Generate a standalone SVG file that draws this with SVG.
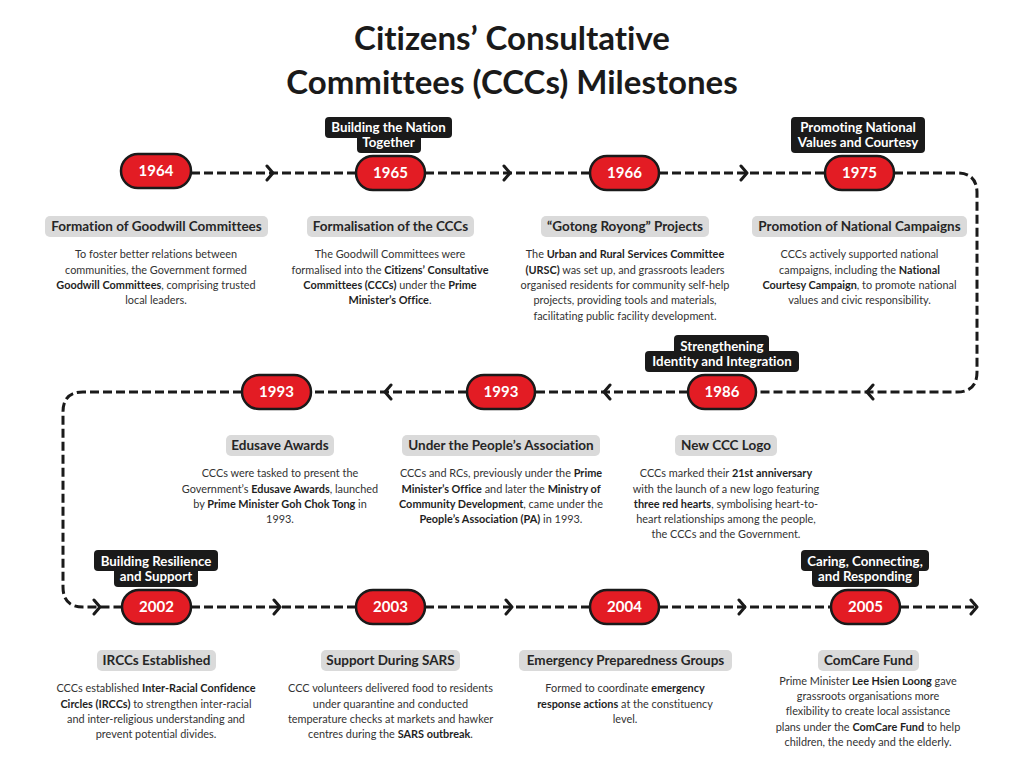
<svg xmlns="http://www.w3.org/2000/svg" width="1024" height="768" viewBox="0 0 1024 768">
<defs>
<style>
text{font-variant-ligatures:none}
.title{font-family:Lato,"Liberation Sans",sans-serif;font-weight:700;font-size:33px;fill:#1a1a1a;text-anchor:middle}
.pill{fill:#e31c24;stroke:#1a1a1a;stroke-width:2.5}
.year{font-family:Lato,"Liberation Sans",sans-serif;font-weight:700;font-size:15px;fill:#fff;text-anchor:middle}
.tag{fill:#1a1a1a}
.tagt{font-family:Lato,"Liberation Sans",sans-serif;font-weight:700;font-size:13.3px;fill:#fff;text-anchor:middle}
.hbox{fill:#dadada}
.head{font-family:Lato,"Liberation Sans",sans-serif;font-weight:700;font-size:13.5px;fill:#262626;text-anchor:middle}
.body{font-family:Lato,"Liberation Sans",sans-serif;font-size:10.9px;fill:#333;text-anchor:middle}
.b{font-weight:700;fill:#1f1f1f}
.line{fill:none;stroke:#1a1a1a;stroke-width:3;stroke-dasharray:9 4}
.arr{fill:none;stroke:#1a1a1a;stroke-width:3;stroke-linecap:round;stroke-linejoin:round}
</style>
</defs>
<rect width="1024" height="768" fill="#fff"/>
<g id="title">
<text class="title" x="512" y="50">Citizens’ Consultative</text>
<text class="title" x="512" y="94">Committees (CCCs) Milestones</text>
</g>
<g id="connectors">
<path class="line" d="M191,173 H356 M425,173 H590 M659,173 H825 M894,173 H957 Q977,173 977,193 V372 Q977,392 957,392 H756 M688,392 H535 M467,392 H311 M242,392 H83 Q63,392 63,412 V587 Q63,607 83,607 H122 M191,607 H356 M425,607 H590 M659,607 H831 M900,607 H977"/>
<path class="arr" d="M267,166 L273,173 L267,180 M504,166 L510,173 L504,180 M741,166 L747,173 L741,180 M873,385 L867,392 L873,399 M610,385 L604,392 L610,399 M391,385 L385,392 L391,399 M94,600 L100,607 L94,614 M274,600 L280,607 L274,614 M506,600 L512,607 L506,614 M739,600 L745,607 L739,614 M971,600 L977,607 L971,614"/>
</g>
<g id="n1964">
<rect class="pill" x="121" y="154" width="70" height="34" rx="17"/>
<text class="year" x="156" y="176">1964</text>
<rect class="hbox" x="45" y="216" width="223" height="21" rx="5"/>
<text class="head" x="156.5" y="231">Formation of Goodwill Committees</text>
<text class="body" x="156" y="258">To foster better relations between</text>
<text class="body" x="156" y="274">communities, the Government formed</text>
<text class="body" x="156" y="289"><tspan class="b">Goodwill Committees</tspan>, comprising trusted</text>
<text class="body" x="156" y="304">local leaders.</text>
</g>
<g id="n1965">
<rect class="tag" x="325" y="117" width="127" height="21" rx="4"/>
<rect class="tag" x="357" y="132" width="64" height="21" rx="4"/>
<text class="tagt" x="388.5" y="132">Building the Nation</text>
<text class="tagt" x="388.5" y="147">Together</text>
<rect class="pill" x="356" y="156" width="69" height="34" rx="17"/>
<text class="year" x="390.5" y="178">1965</text>
<rect class="hbox" x="307" y="216" width="167" height="21" rx="5"/>
<text class="head" x="390.5" y="231">Formalisation of the CCCs</text>
<text class="body" x="390" y="258">The Goodwill Committees were</text>
<text class="body" x="390" y="274">formalised into the <tspan class="b">Citizens’ Consultative</tspan></text>
<text class="body" x="390" y="289"><tspan class="b">Committees (CCCs)</tspan> under the <tspan class="b">Prime</tspan></text>
<text class="body" x="390" y="304"><tspan class="b">Minister’s Office</tspan>.</text>
</g>
<g id="n1966">
<rect class="pill" x="590" y="156" width="69" height="34" rx="17"/>
<text class="year" x="624.5" y="178">1966</text>
<rect class="hbox" x="541" y="216" width="168" height="21" rx="5"/>
<text class="head" x="625" y="231">“Gotong Royong” Projects</text>
<text class="body" x="625" y="258">The <tspan class="b">Urban and Rural Services Committee</tspan></text>
<text class="body" x="625" y="274"><tspan class="b">(URSC)</tspan> was set up, and grassroots leaders</text>
<text class="body" x="625" y="289">organised residents for community self-help</text>
<text class="body" x="625" y="304">projects, providing tools and materials,</text>
<text class="body" x="625" y="320">facilitating public facility development.</text>
</g>
<g id="n1975">
<rect class="tag" x="791" y="117" width="134" height="36" rx="4"/>
<text class="tagt" x="858" y="132">Promoting National</text>
<text class="tagt" x="858" y="147">Values and Courtesy</text>
<rect class="pill" x="825" y="156" width="69" height="34" rx="17"/>
<text class="year" x="859.5" y="178">1975</text>
<rect class="hbox" x="752" y="216" width="215" height="21" rx="5"/>
<text class="head" x="859.5" y="231">Promotion of National Campaigns</text>
<text class="body" x="859.5" y="258">CCCs actively supported national</text>
<text class="body" x="859.5" y="274">campaigns, including the <tspan class="b">National</tspan></text>
<text class="body" x="859.5" y="289"><tspan class="b">Courtesy Campaign</tspan>, to promote national</text>
<text class="body" x="859.5" y="304">values and civic responsibility.</text>
</g>
<g id="n1986">
<rect class="tag" x="674" y="335" width="95" height="21" rx="4"/>
<rect class="tag" x="645" y="351" width="154" height="21" rx="4"/>
<text class="tagt" x="722" y="351">Strengthening</text>
<text class="tagt" x="722" y="366">Identity and Integration</text>
<rect class="pill" x="688" y="375" width="68" height="34" rx="17"/>
<text class="year" x="722" y="397">1986</text>
<rect class="hbox" x="675" y="435" width="102" height="21" rx="5"/>
<text class="head" x="726" y="450">New CCC Logo</text>
<text class="body" x="726" y="477">CCCs marked their <tspan class="b">21st anniversary</tspan></text>
<text class="body" x="726" y="493">with the launch of a new logo featuring</text>
<text class="body" x="726" y="508"><tspan class="b">three red hearts</tspan>, symbolising heart-to-</text>
<text class="body" x="726" y="523">heart relationships among the people,</text>
<text class="body" x="726" y="538">the CCCs and the Government.</text>
</g>
<g id="n1993b">
<rect class="pill" x="467" y="375" width="68" height="34" rx="17"/>
<text class="year" x="501" y="397">1993</text>
<rect class="hbox" x="402" y="435" width="198" height="21" rx="5"/>
<text class="head" x="501" y="450">Under the People’s Association</text>
<text class="body" x="501" y="477">CCCs and RCs, previously under the <tspan class="b">Prime</tspan></text>
<text class="body" x="501" y="493"><tspan class="b">Minister’s Office</tspan> and later the <tspan class="b">Ministry of</tspan></text>
<text class="body" x="501" y="508"><tspan class="b">Community Development</tspan>, came under the</text>
<text class="body" x="501" y="523"><tspan class="b">People’s Association (PA)</tspan> in 1993.</text>
</g>
<g id="n1993a">
<rect class="pill" x="242" y="375" width="69" height="34" rx="17"/>
<text class="year" x="276.5" y="397">1993</text>
<rect class="hbox" x="226" y="435" width="108" height="21" rx="5"/>
<text class="head" x="280" y="450">Edusave Awards</text>
<text class="body" x="280" y="477">CCCs were tasked to present the</text>
<text class="body" x="280" y="493">Government’s <tspan class="b">Edusave Awards</tspan>, launched</text>
<text class="body" x="280" y="508">by <tspan class="b">Prime Minister Goh Chok Tong</tspan> in</text>
<text class="body" x="280" y="523">1993.</text>
</g>
<g id="n2002">
<rect class="tag" x="94" y="550" width="124" height="21" rx="4"/>
<rect class="tag" x="114" y="566" width="84" height="21" rx="4"/>
<text class="tagt" x="156" y="566">Building Resilience</text>
<text class="tagt" x="156" y="581">and Support</text>
<rect class="pill" x="122" y="590" width="69" height="34" rx="17"/>
<text class="year" x="156.5" y="612">2002</text>
<rect class="hbox" x="97" y="650" width="119" height="21" rx="5"/>
<text class="head" x="156.5" y="665">IRCCs Established</text>
<text class="body" x="156" y="692">CCCs established <tspan class="b">Inter-Racial Confidence</tspan></text>
<text class="body" x="156" y="708"><tspan class="b">Circles (IRCCs)</tspan> to strengthen inter-racial</text>
<text class="body" x="156" y="723">and inter-religious understanding and</text>
<text class="body" x="156" y="738">prevent potential divides.</text>
</g>
<g id="n2003">
<rect class="pill" x="356" y="590" width="69" height="34" rx="17"/>
<text class="year" x="390.5" y="612">2003</text>
<rect class="hbox" x="321" y="650" width="139" height="21" rx="5"/>
<text class="head" x="390.5" y="665">Support During SARS</text>
<text class="body" x="390.5" y="692">CCC volunteers delivered food to residents</text>
<text class="body" x="390.5" y="708">under quarantine and conducted</text>
<text class="body" x="390.5" y="723">temperature checks at markets and hawker</text>
<text class="body" x="390.5" y="738">centres during the <tspan class="b">SARS outbreak</tspan>.</text>
</g>
<g id="n2004">
<rect class="pill" x="590" y="590" width="69" height="34" rx="17"/>
<text class="year" x="624.5" y="612">2004</text>
<rect class="hbox" x="519" y="650" width="213" height="21" rx="5"/>
<text class="head" x="625.5" y="665">Emergency Preparedness Groups</text>
<text class="body" x="625" y="692">Formed to coordinate <tspan class="b">emergency</tspan></text>
<text class="body" x="625" y="708"><tspan class="b">response actions</tspan> at the constituency</text>
<text class="body" x="625" y="723">level.</text>
</g>
<g id="n2005">
<rect class="tag" x="801" y="550" width="128" height="21" rx="4"/>
<rect class="tag" x="812" y="566" width="107" height="21" rx="4"/>
<text class="tagt" x="865" y="566">Caring, Connecting,</text>
<text class="tagt" x="865" y="581">and Responding</text>
<rect class="pill" x="831" y="590" width="69" height="34" rx="17"/>
<text class="year" x="865.5" y="612">2005</text>
<rect class="hbox" x="818" y="650" width="101" height="21" rx="5"/>
<text class="head" x="868.5" y="665">ComCare Fund</text>
<text class="body" x="868" y="685">Prime Minister <tspan class="b">Lee Hsien Loong</tspan> gave</text>
<text class="body" x="868" y="700">grassroots organisations more</text>
<text class="body" x="868" y="715">flexibility to create local assistance</text>
<text class="body" x="868" y="731">plans under the <tspan class="b">ComCare Fund</tspan> to help</text>
<text class="body" x="868" y="746">children, the needy and the elderly.</text>
</g>
</svg>
